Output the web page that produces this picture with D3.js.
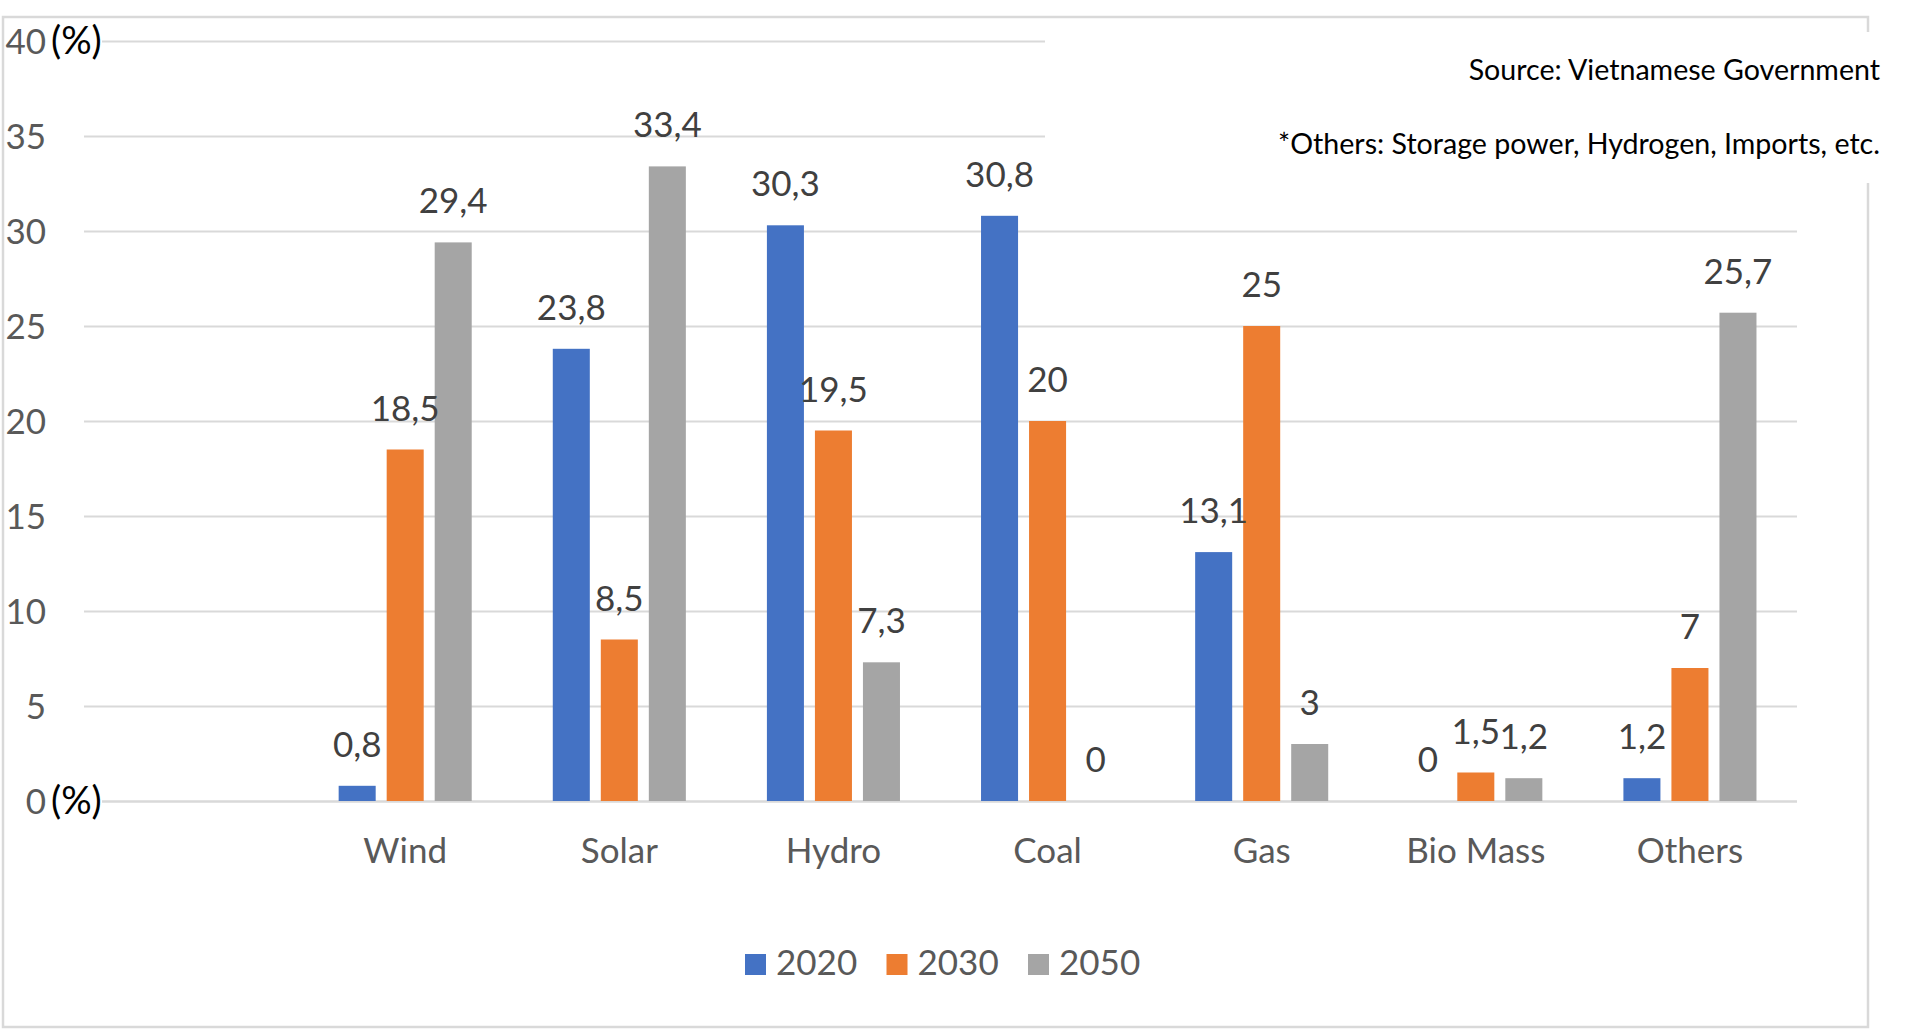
<!DOCTYPE html>
<html>
<head>
<meta charset="utf-8">
<script src="https://cdn.jsdelivr.net/npm/d3@7"></script>
<style>
  body { margin: 0; background: #fff; }
  text { font-family: Lato, "Open Sans", sans-serif; }
</style>
</head>
<body>
<div id="chart"></div>
<script>
// first category is blank in the original chart
const categories = ["", "Wind", "Solar", "Hydro", "Coal", "Gas", "Bio Mass", "Others"];
const years = ["2020", "2030", "2050"];
const values2020 = [null, 0.8, 23.8, 30.3, 30.8, 13.1, 0, 1.2];
const values2030 = [null, 18.5, 8.5, 19.5, 20, 25, 1.5, 7];
const values2050 = [null, 29.4, 33.4, 7.3, 0, 3, 1.2, 25.7];
const yTicks = [0, 5, 10, 15, 20, 25, 30, 35, 40];
const colors = ["#4472c4", "#ed7d31", "#a5a5a5"];
const sourceLines = ["Source: Vietnamese Government", "*Others: Storage power, Hydrogen, Imports, etc."];

const width = 1920, height = 1034;
const plotLeft = 84, plotRight = 1797, plotTop = 41, plotBottom = 801;
const fontSize = "35px";

const svg = d3.select("#chart").append("svg")
    .attr("width", width)
    .attr("height", height);

// outer chart border
svg.append("rect")
    .attr("x", 3).attr("y", 17)
    .attr("width", 1865).attr("height", 1010)
    .attr("fill", "none")
    .attr("stroke", "#d9d9d9")
    .attr("stroke-width", 2.5);

const y = d3.scaleLinear().domain([0, 40]).range([plotBottom, plotTop]);
const x0 = d3.scaleBand().domain(categories).range([plotLeft, plotRight]);
const x1 = d3.scaleBand().domain(years).range([0, x0.bandwidth()])
    .paddingInner(0.229).paddingOuter(0.844);
const color = d3.scaleOrdinal().domain(years).range(colors);

// gridlines
const grid = svg.append("g")
    .attr("transform", `translate(${plotLeft},0)`)
    .call(d3.axisLeft(y).tickValues(yTicks).tickSize(-(plotRight - plotLeft)).tickFormat(""));
grid.select(".domain").remove();
grid.selectAll("line")
    .attr("stroke", "#d9d9d9")
    .attr("stroke-width", d => d === 0 ? 2.5 : 2);

// y tick labels
const yAxis = svg.append("g")
    .attr("transform", "translate(46,0)")
    .call(d3.axisLeft(y).tickValues(yTicks).tickSize(0).tickPadding(0));
yAxis.select(".domain").remove();
yAxis.selectAll("text")
    .attr("fill", "#595959")
    .style("font-size", fontSize)
    .attr("dy", "0.36em");

// "(%)" unit labels with white backing
[40, 0].forEach(v => {
    svg.append("rect")
        .attr("x", 50).attr("y", y(v) - 18)
        .attr("width", 52).attr("height", 36)
        .attr("fill", "#fff");
    svg.append("text")
        .attr("x", 51).attr("y", y(v) + 13)
        .attr("fill", "#000")
        .style("font-size", "38px")
        .text("(%)");
});

// category labels
const xAxis = svg.append("g")
    .attr("transform", `translate(0,${plotBottom})`)
    .call(d3.axisBottom(x0).tickSize(0).tickPadding(0));
xAxis.select(".domain").remove();
xAxis.selectAll("text")
    .attr("fill", "#595959")
    .attr("dy", 0)
    .attr("y", 62)
    .style("font-size", fontSize);

// bars
const series = [values2020, values2030, values2050];
const rows = categories.map((c, i) => ({
    category: c,
    values: years.map((yr, j) => ({ year: yr, value: series[j][i] })).filter(d => d.value !== null)
}));

const groups = svg.append("g").selectAll("g")
    .data(rows)
    .enter()
    .append("g")
    .attr("transform", d => `translate(${x0(d.category)},0)`);

groups.selectAll("rect")
    .data(d => d.values)
    .enter()
    .append("rect")
    .attr("x", d => x1(d.year))
    .attr("y", d => y(d.value))
    .attr("width", x1.bandwidth())
    .attr("height", d => y(0) - y(d.value))
    .attr("fill", d => color(d.year));

groups.selectAll("text")
    .data(d => d.values)
    .enter()
    .append("text")
    .attr("x", d => x1(d.year) + x1.bandwidth() / 2)
    .attr("y", d => y(d.value) - 29)
    .attr("text-anchor", "middle")
    .attr("fill", "#404040")
    .style("font-size", fontSize)
    .text(d => String(d.value).replace(".", ","));

// legend
const legend = svg.append("g").selectAll("g")
    .data(years)
    .enter()
    .append("g")
    .attr("transform", (d, i) => `translate(${745 + i * 141.5},954)`);
legend.append("rect")
    .attr("width", 21).attr("height", 21)
    .attr("fill", d => color(d));
legend.append("text")
    .attr("x", 31).attr("y", 21)
    .attr("fill", "#595959")
    .style("font-size", fontSize)
    .text(d => d);

// source note box (covers the top of the grid and border)
svg.append("rect")
    .attr("x", 1045).attr("y", 32)
    .attr("width", 845).attr("height", 151)
    .attr("fill", "#fff");
svg.selectAll(".source")
    .data(sourceLines)
    .enter()
    .append("text")
    .attr("class", "source")
    .attr("x", 1880)
    .attr("y", (d, i) => 80 + i * 74)
    .attr("text-anchor", "end")
    .attr("fill", "#000")
    .style("font-size", "28.6px")
    .text(d => d);
</script>
</body>
</html>
